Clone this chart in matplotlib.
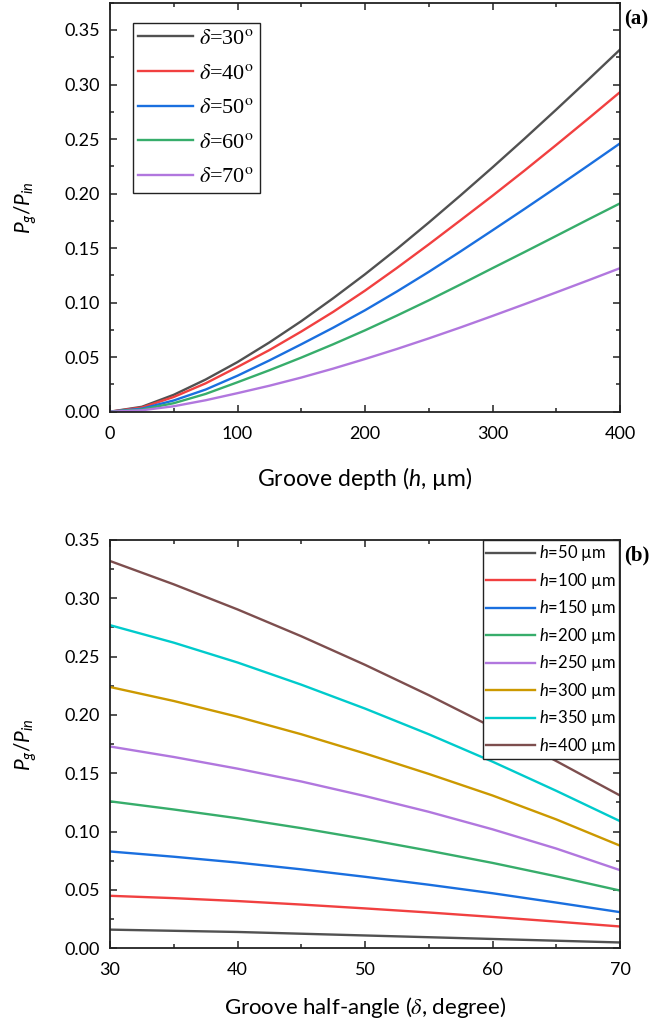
import matplotlib
matplotlib.use('Agg')
import matplotlib.pyplot as plt
from matplotlib.ticker import MultipleLocator
from matplotlib.font_manager import FontProperties

plt.rcParams['font.family'] = ['Lato', 'DejaVu Sans']
plt.rcParams['mathtext.fontset'] = 'custom'
plt.rcParams['mathtext.rm'] = 'Lato'
plt.rcParams['mathtext.it'] = 'Lato:italic'
plt.rcParams['mathtext.bf'] = 'Lato:bold'

# (a) Pg/Pin against groove depth, one curve per half-angle
depth = [0, 25, 50, 75, 100, 125, 150, 175, 200, 225, 250, 275, 300, 325, 350, 375, 400]
angles_a = [30, 40, 50, 60, 70]
ratio_d30 = [0, 0.0045, 0.0155, 0.0295, 0.0455, 0.0635, 0.083, 0.104, 0.126, 0.1492, 0.1734, 0.1984, 0.224, 0.2502, 0.277, 0.3043, 0.332]
ratio_d40 = [0, 0.0038, 0.0135, 0.026, 0.041, 0.0565, 0.0735, 0.0915, 0.111, 0.1318, 0.1534, 0.1756, 0.198, 0.221, 0.2446, 0.2686, 0.293]
ratio_d50 = [0, 0.0028, 0.0103, 0.0203, 0.033, 0.047, 0.0618, 0.077, 0.093, 0.1102, 0.1282, 0.147, 0.1663, 0.1858, 0.2056, 0.2257, 0.246]
ratio_d60 = [0, 0.002, 0.0078, 0.0163, 0.027, 0.038, 0.0496, 0.0618, 0.0746, 0.0881, 0.1021, 0.1167, 0.1316, 0.1463, 0.1612, 0.1762, 0.191]
ratio_d70 = [0, 0.0013, 0.005, 0.0105, 0.017, 0.0238, 0.0313, 0.0395, 0.0483, 0.0575, 0.0672, 0.0773, 0.0878, 0.0985, 0.1094, 0.1204, 0.1316]
curves_a = [ratio_d30, ratio_d40, ratio_d50, ratio_d60, ratio_d70]

# (b) Pg/Pin against half-angle, one curve per depth
half_angle = [30, 35, 40, 45, 50, 55, 60, 65, 70]
depths_b = [50, 100, 150, 200, 250, 300, 350, 400]
ratio_h50 = [0.016, 0.015, 0.014, 0.0125, 0.011, 0.0095, 0.008, 0.0065, 0.005]
ratio_h100 = [0.045, 0.043, 0.0405, 0.0375, 0.0342, 0.0307, 0.0269, 0.0229, 0.0187]
ratio_h150 = [0.083, 0.0785, 0.0735, 0.0677, 0.0613, 0.0545, 0.0472, 0.0392, 0.031]
ratio_h200 = [0.126, 0.119, 0.1115, 0.103, 0.0937, 0.0837, 0.0732, 0.0617, 0.0495]
ratio_h250 = [0.173, 0.164, 0.154, 0.143, 0.1305, 0.117, 0.102, 0.0855, 0.067]
ratio_h300 = [0.224, 0.212, 0.1985, 0.1835, 0.167, 0.1495, 0.131, 0.1105, 0.088]
ratio_h350 = [0.277, 0.262, 0.245, 0.226, 0.2055, 0.1835, 0.160, 0.135, 0.109]
ratio_h400 = [0.332, 0.312, 0.2905, 0.2675, 0.243, 0.217, 0.1895, 0.1605, 0.131]
curves_b = [ratio_h50, ratio_h100, ratio_h150, ratio_h200, ratio_h250, ratio_h300, ratio_h350, ratio_h400]

colors = ['#515151', '#F14040', '#1A6FDF', '#37AD6B', '#B177DE', '#CC9900', '#00CBCC', '#7D4E4E']

W, H = 653, 1029
fig = plt.figure(figsize=(W / 100, H / 100), dpi=100)
ax1 = fig.add_axes([110 / W, 1 - 411.7 / H, 510 / W, 409 / H])
ax2 = fig.add_axes([110 / W, 1 - 948.3 / H, 510 / W, 408.3 / H])


def style(ax):
    for s in ax.spines.values():
        s.set_linewidth(1.3)
        s.set_color('#222222')
    ax.tick_params(which='both', direction='in', top=True, right=True,
                   width=1.1, color='#222222', labelsize=13)
    ax.tick_params(which='major', length=5)
    ax.tick_params(which='minor', length=3)
    ax.tick_params(axis='y', pad=7)
    ax.tick_params(axis='x', pad=10)
    ax.yaxis.set_major_locator(MultipleLocator(0.05))
    ax.yaxis.set_minor_locator(MultipleLocator(0.025))
    ax.yaxis.set_major_formatter(matplotlib.ticker.FormatStrFormatter('%.2f'))
    ax.set_ylabel('$P_g/P_{in}$', fontsize=15)
    ax.yaxis.set_label_coords(-0.14, 0.5)


# panel (a)
for ang, vals, c in zip(angles_a, curves_a, colors):
    ax1.plot(depth, vals, color=c, lw=1.7, label=r'$\delta$=%d$^{\mathrm{o}}$' % ang)
ax1.set_xlim(0, 400)
ax1.set_ylim(0, 0.375)
ax1.xaxis.set_major_locator(MultipleLocator(100))
ax1.xaxis.set_minor_locator(MultipleLocator(50))
style(ax1)
ax1.set_xlabel('Groove depth ($h$, \u00b5m)', fontsize=16.5)
ax1.xaxis.set_label_coords(0.5, -0.13)
leg_font = FontProperties(family='Liberation Serif', size=16, math_fontfamily='stix')
leg1 = ax1.legend(loc='upper left', bbox_to_anchor=(0.0445, 0.95), borderaxespad=0,
                  prop=leg_font, handlelength=2.45, handletextpad=0.3, borderpad=0.25,
                  labelspacing=0.63, fancybox=False, framealpha=1, edgecolor='#222222')
leg1.get_frame().set_linewidth(1.0)
ax1.text(1.008, 0.96, '(a)', transform=ax1.transAxes, fontsize=15, fontweight='bold',
         family='Liberation Serif', ha='left', va='center')

# panel (b)
for h, vals, c in zip(depths_b, curves_b, colors):
    ax2.plot(half_angle, vals, color=c, lw=1.7, label='$h$=%d \u00b5m' % h)
ax2.set_xlim(30, 70)
ax2.set_ylim(0, 0.35)
ax2.xaxis.set_major_locator(MultipleLocator(10))
ax2.xaxis.set_minor_locator(MultipleLocator(5))
style(ax2)
fp_b = FontProperties(family=['Lato', 'DejaVu Sans'], size=16, math_fontfamily='stix')
ax2.set_xlabel('Groove half-angle ($\\delta$, degree)', fontproperties=fp_b)
ax2.xaxis.set_label_coords(0.5, -0.115)
leg2 = ax2.legend(loc='upper right', bbox_to_anchor=(0.998, 1.0), borderaxespad=0,
                  fontsize=12, handlelength=2.9, handletextpad=0.25, borderpad=0.2,
                  labelspacing=0.45, fancybox=False, framealpha=1, edgecolor='#222222')
leg2.get_frame().set_linewidth(1.0)
ax2.text(1.008, 0.963, '(b)', transform=ax2.transAxes, fontsize=15, fontweight='bold',
         family='Liberation Serif', ha='left', va='center')

fig.savefig('out.png', dpi=100)
